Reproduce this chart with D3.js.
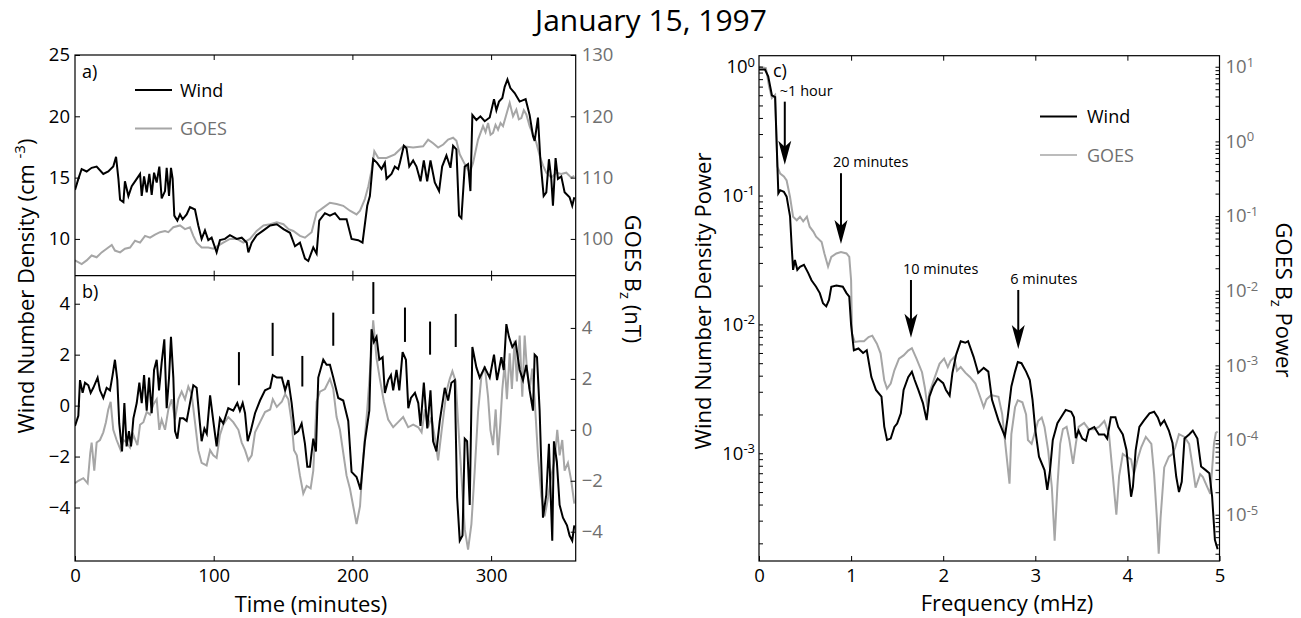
<!DOCTYPE html>
<html>
<head>
<meta charset="utf-8">
<script src="https://cdn.jsdelivr.net/npm/d3@7"></script>
<style>
body { margin: 0; background: #fff; }
text { font-family: "Open Sans", sans-serif; fill: #000; }
</style>
</head>
<body>
<script>
// ---------------- data ----------------
// panel a : Wind number density (cm^-3), [minute, value]
var windDensity = [[0,14.0],[2.4,14.9],[4.8,15.7],[8.4,15.5],[12,15.8],[15.6,15.9],[20.4,15.3],[24,15.5],[27.6,15.9],[29.6,16.7],[31.3,14.9],[32.5,13.2],[34.9,13.0],[36,14.7],[38.5,13.5],[40.9,14.3],[44.5,14.9],[46.9,15.3],[48.1,13.5],[49.8,15.1],[51.7,13.8],[53.6,15.3],[55.3,13.6],[57,15.4],[58.9,14.6],[60.8,15.9],[62.5,13.3],[64.9,13.9],[66.1,15.8],[67.8,13.5],[69.2,15.8],[70.4,14.9],[71.6,11.9],[73.8,11.5],[75.7,12.0],[77.6,11.6],[80.5,12.0],[82.9,12.6],[86.5,12.4],[88.9,11.1],[91.3,10.0],[93.7,10.7],[96.1,9.9],[98.5,10.1],[102.1,8.9],[104.5,9.9],[108.1,10.0],[111.7,10.3],[116.6,10.0],[120.2,10.1],[123.8,9.7],[125,8.9],[127.4,9.7],[131,10.3],[135.9,10.7],[140.7,11.1],[145.5,11.2],[150.3,10.8],[155,10.5],[158.6,9.4],[162.2,9.7],[165.8,8.4],[168.2,8.2],[171.8,9.3],[174.2,8.8],[176.1,11.5],[180.2,12.1],[183.8,11.9],[187.4,12.1],[191,11.6],[195.8,11.6],[199.4,10.0],[204.2,9.9],[207.3,9.7],[210.7,12.7],[212.6,13.5],[215,16.5],[217.8,16.2],[221,15.7],[223.4,16.2],[224.6,14.9],[228.2,15.3],[230.6,15.9],[233,15.7],[234.2,16.2],[237.1,17.6],[239,17.4],[241,15.9],[243.8,16.4],[246.2,15.9],[249.1,14.7],[251.5,16.4],[253.9,14.7],[256.3,16.4],[259.4,14.6],[262.5,13.9],[264.7,15.9],[267.8,16.8],[270.7,15.8],[272.6,17.6],[275,17.3],[276.9,11.9],[278.6,11.7],[281,15.9],[283.4,16.1],[285.1,13.9],[286.5,20.1],[289.4,19.7],[292.3,20.0],[295.4,19.6],[299,19.9],[302.1,21.4],[303.8,20.5],[305.7,21.2],[308.1,21.5],[309.8,22.4],[311.8,23.0],[313.9,22.3],[317,21.9],[320.6,21.2],[324.9,21.4],[327.8,20.1],[330.2,18.4],[331.4,18.0],[333.8,19.9],[335.5,16.5],[337.9,13.5],[339.8,13.8],[341.7,16.5],[343.4,14.9],[344.6,12.7],[346.5,16.6],[348.2,14.9],[350.6,15.1],[353,13.8],[356.6,13.4],[358.5,12.7],[360,13.4]];

// panel a : GOES Bz (nT), [minute, value]
var goesBz = [[0,96.5],[4.8,95.9],[8.4,96.5],[12,97.3],[15.6,97.0],[19.2,97.8],[22.8,98.4],[26.5,99.0],[28.8,98.1],[32.5,97.8],[36,98.4],[39.7,98.6],[43.3,99.7],[46.9,99.4],[50.5,100.5],[54.1,100.2],[57.7,100.7],[61.3,101.1],[64.9,101.3],[67.3,101.1],[70.9,101.9],[75.7,102.2],[79.3,101.6],[82.9,101.9],[85.3,100.5],[87.7,99.4],[91.3,98.6],[96.1,98.6],[99.7,98.4],[103.3,98.9],[106.9,99.4],[111.7,100.0],[116.6,100.0],[121.4,99.4],[126.2,100.0],[131,101.3],[135.9,102.2],[140.7,102.4],[145.5,102.7],[150.3,102.4],[154,101.6],[157.4,101.3],[162.2,100.5],[165.8,100.2],[170.6,101.1],[174.2,104.3],[179,105.1],[183.8,105.9],[188.6,105.7],[193.4,105.4],[198.2,104.6],[203,104.0],[205.5,104.6],[209,106.5],[211.5,108.6],[213.9,111.3],[215.8,114.3],[218.7,113.2],[224.6,113.2],[230.6,113.8],[236.6,115.1],[243.8,114.9],[251,115.1],[254.6,116.2],[258.2,115.6],[261.8,114.9],[265.5,115.4],[269,116.2],[272.6,116.5],[275,116.0],[277.4,113.8],[281,112.2],[284.6,110.8],[287,112.4],[290.6,116.2],[294.2,118.4],[296,117.4],[297.8,118.9],[299.6,117.0],[301.4,117.3],[303.2,118.6],[305,117.8],[306.8,118.9],[308.6,118.4],[311,120.3],[313.4,122.2],[315.8,120.0],[318.2,121.1],[320,119.5],[321.8,119.7],[323.6,121.0],[325.4,120.3],[327.8,118.4],[330.2,117.0],[332.6,115.7],[335,113.6],[337.4,112.0],[339.8,110.8],[343.4,110.0],[347,110.8],[350.6,110.6],[354.2,110.8],[357.8,110.0],[360,110.3]];

// panel b : filtered Wind density, [minute, value]
var windFilt = [[0,-0.8],[2.4,-0.4],[3.6,1.0],[5.5,0.5],[7.2,0.9],[9.6,0.8],[11.3,0.5],[13.2,0.7],[16.3,1.1],[18,0.6],[20.4,0.3],[22.8,0.7],[25.2,0.6],[27.1,1.2],[28.8,1.8],[30.5,1.0],[31.9,-0.7],[33.9,-1.8],[35.6,0.1],[37.2,-1.6],[38.9,-1.0],[40.4,-1.6],[42.1,-0.5],[44.5,0.1],[46.4,0.9],[48.1,0.1],[49.8,1.2],[51.7,-0.2],[53.4,1.1],[55.3,-0.3],[57,1.4],[58.9,1.8],[60.6,0.6],[62.5,1.7],[64.4,2.6],[66.1,-0.1],[67.8,1.1],[69.2,2.7],[70.9,1.1],[72.1,-1.0],[73.8,-1.3],[75.7,-0.5],[78.1,-0.5],[80.5,-0.6],[82.9,0.1],[85.3,0.8],[87.7,0.7],[89.7,-0.5],[91.3,-1.4],[93.3,-0.9],[95,-1.1],[97.4,0.4],[99.7,-0.6],[102.1,-1.6],[104.5,-0.5],[106.9,-0.7],[110.5,-0.1],[114.1,-0.2],[117,0.1],[118.9,-0.2],[120.9,0.1],[122.6,-0.3],[124.5,-1.4],[126.7,-1.0],[129.8,-0.3],[133.4,0.2],[137,0.6],[140.7,0.7],[142.6,1.2],[145.5,1.1],[149.1,1.1],[151.5,0.6],[153.8,1.0],[156.2,0.1],[158.6,-1.1],[161,-1.0],[163.4,-0.7],[165.8,-1.5],[167.5,-2.4],[169.4,-2.4],[171.8,-1.3],[173.7,-1.8],[175.4,1.1],[179,1.8],[181.4,1.6],[183.8,1.6],[186.2,1.1],[189.8,0.3],[193.4,0.2],[197,-0.6],[199.4,-2.6],[203,-2.8],[205.9,-3.3],[209,-1.4],[212.2,-0.2],[213.8,3.0],[215.5,2.5],[217.4,2.7],[219.4,1.8],[221.8,1.9],[223.4,0.5],[225.8,1.0],[227.8,1.2],[229.4,0.6],[231.8,1.4],[233.8,0.6],[236.2,2.1],[238.6,1.8],[240.3,-0.1],[242.2,0.3],[245.1,0.5],[247.5,0.1],[249.1,-0.8],[251.5,0.9],[254,-0.9],[256.3,0.6],[258.2,-1.4],[260.6,-1.8],[263,-0.6],[266.6,0.7],[269,0.2],[271.4,0.9],[273.8,1.0],[275.5,-3.6],[277.4,-5.3],[279.4,-5.1],[281,-1.3],[282.7,-1.4],[284.6,-3.9],[286.5,2.3],[289.4,1.5],[291.8,1.1],[295.4,1.5],[299,1.1],[302.1,2.0],[304.3,1.0],[307.4,1.9],[309.1,1.4],[311,3.2],[312.9,2.7],[315.3,2.3],[317.7,2.5],[320.6,1.4],[323,1.0],[325.4,1.6],[327.8,0.6],[330.2,-0.2],[331.4,2.0],[333.1,1.9],[335,-0.2],[337.4,-4.4],[339.8,-3.5],[341.7,-1.5],[344.1,-5.3],[345.3,-1.4],[347.4,-2.2],[349.4,-3.9],[351.8,-4.4],[354.7,-4.7],[356.6,-5.1],[358.5,-5.3],[360,-4.7]];

// panel b : filtered GOES Bz (nT), [minute, value]
var goesFilt = [[0,-2.1],[2.4,-2.0],[6,-1.9],[9.1,-2.1],[11,-0.9],[12,-0.5],[13.9,-1.6],[15.6,-0.5],[18,-0.4],[20.4,-0.1],[22.3,0.3],[24,0.8],[25.7,1.1],[27.6,0.0],[30,-0.4],[32.9,-0.8],[34.9,-0.4],[37.3,-0.5],[39.7,-0.7],[42.1,-0.2],[45,-0.6],[46.9,0.2],[49.3,0.3],[51.7,0.7],[54.1,0.6],[56.5,1.0],[58.9,1.2],[60.8,0.0],[62.5,0.4],[64.9,0.0],[67.3,0.8],[69.7,1.2],[72.1,0.4],[74.5,1.2],[76.9,1.5],[79.3,1.2],[81.7,1.7],[84.1,1.4],[86.5,0.3],[88.9,-0.8],[91.3,-1.3],[94.9,-1.4],[97.4,-0.8],[99.7,-1.0],[102.1,-1.1],[104.5,-0.2],[106.9,0.2],[110.5,0.5],[114.1,0.3],[117.8,0.0],[120.2,-0.5],[122.6,-0.8],[125,-1.2],[127.4,-1.0],[129.8,-0.1],[133.4,0.3],[137,0.7],[140.7,0.8],[142.6,1.2],[145.5,0.9],[149.1,1.1],[151.5,1.4],[153.8,1.2],[156.2,0.3],[157.9,-0.8],[159.9,-1.0],[162.2,-1.8],[164.6,-2.5],[167,-2.2],[169.9,-2.3],[171.8,-1.6],[174.2,1.1],[176.6,1.5],[180.2,1.6],[183.8,2.0],[186.2,1.6],[188.6,0.5],[191,0.0],[193.4,-0.9],[195.8,-1.8],[198.2,-2.3],[200.6,-3.0],[203,-3.7],[205.5,-3.0],[207.9,-1.0],[210.7,0.8],[213.1,2.6],[215,4.3],[217.4,2.8],[219.8,2.0],[222.7,1.1],[225.8,0.4],[229.4,0.1],[233,0.3],[236.6,0.5],[240.2,0.1],[243.8,0.2],[247.5,0.1],[249.9,-0.1],[252.3,0.8],[254.6,0.1],[257,0.5],[259.4,-0.3],[261.8,-1.2],[264.2,-0.1],[267.8,1.5],[270.2,2.0],[272.1,2.3],[274.5,1.9],[276.2,0.3],[278.6,-1.8],[281,-3.9],[283.4,-4.7],[285.8,-3.7],[288.2,-1.6],[290.6,0.7],[293,2.1],[295.4,2.5],[297.8,1.3],[299.5,0.0],[301.4,-0.6],[303.3,0.8],[305,-1.0],[306.7,0.3],[308.1,1.6],[309.8,2.6],[311.4,1.2],[313.4,3.0],[315,1.6],[316.9,3.5],[318.6,1.9],[320.6,3.7],[322.5,1.3],[324.2,3.7],[325.8,2.4],[327.8,1.6],[329.7,2.4],[331.4,1.2],[333.8,-1.0],[336.2,-2.6],[338.6,-3.4],[341,-2.7],[343.4,-1.8],[345.8,-1.2],[347.7,0.0],[349.4,-1.0],[351.3,-0.4],[353,-1.6],[355.4,-1.3],[357.8,-2.0],[360,-2.9]];

// panel b : vertical marks, minute / top / bottom (left axis units)
var markTime = [118.2, 142.5, 163.9, 186.2, 215.1, 237.9, 256, 274.5];
var markTop = [2.1, 3.25, 1.95, 3.65, 4.85, 3.85, 3.3, 3.6];
var markBottom = [0.8, 1.95, 0.75, 2.35, 3.6, 2.5, 2.0, 2.3];

// panel c : power spectra, [mHz, power]
var windPower = [[0,0.95],[0.065,0.95],[0.1,0.84],[0.14,0.6],[0.175,0.58],[0.2,0.168],[0.21,0.104],[0.23,0.11],[0.27,0.107],[0.3,0.098],[0.337,0.069],[0.355,0.04],[0.37,0.0265],[0.39,0.0316],[0.416,0.0265],[0.445,0.028],[0.488,0.029],[0.535,0.025],[0.57,0.022],[0.62,0.0196],[0.66,0.0175],[0.695,0.0146],[0.73,0.0138],[0.76,0.0155],[0.785,0.0196],[0.84,0.020],[0.91,0.0196],[0.95,0.0175],[0.98,0.0164],[1.0,0.0099],[1.03,0.0063],[1.08,0.0065],[1.13,0.006],[1.17,0.0063],[1.22,0.0039],[1.27,0.0031],[1.33,0.00275],[1.36,0.00161],[1.39,0.00127],[1.43,0.0013],[1.47,0.0016],[1.5,0.0017],[1.54,0.00204],[1.57,0.0031],[1.62,0.0039],[1.66,0.0043],[1.69,0.0037],[1.73,0.0031],[1.78,0.00245],[1.82,0.00181],[1.85,0.00275],[1.89,0.0033],[1.94,0.0038],[2.0,0.0035],[2.03,0.0031],[2.07,0.0028],[2.1,0.0042],[2.14,0.0058],[2.19,0.0074],[2.24,0.0072],[2.27,0.0074],[2.33,0.0056],[2.38,0.0042],[2.44,0.0046],[2.49,0.0043],[2.53,0.0026],[2.6,0.0018],[2.67,0.00135],[2.7,0.0019],[2.74,0.0033],[2.78,0.0043],[2.81,0.0051],[2.85,0.005],[2.9,0.0043],[2.94,0.0037],[2.97,0.0026],[3.0,0.00152],[3.04,0.00094],[3.1,0.00074],[3.13,0.00052],[3.16,0.00074],[3.19,0.00127],[3.24,0.00171],[3.28,0.0019],[3.33,0.00217],[3.39,0.0021],[3.42,0.0019],[3.44,0.00131],[3.47,0.0015],[3.51,0.0013],[3.55,0.00125],[3.58,0.00152],[3.64,0.0016],[3.69,0.0014],[3.75,0.0014],[3.78,0.0013],[3.82,0.0019],[3.87,0.0019],[3.9,0.0016],[3.95,0.0014],[3.99,0.00106],[4.04,0.00046],[4.06,0.00055],[4.09,0.00106],[4.13,0.0016],[4.18,0.0018],[4.24,0.00204],[4.29,0.0021],[4.33,0.0019],[4.36,0.00166],[4.4,0.0018],[4.45,0.0015],[4.49,0.0012],[4.53,0.00066],[4.56,0.0005],[4.59,0.0006],[4.62,0.0013],[4.67,0.0014],[4.71,0.0015],[4.76,0.0013],[4.8,0.00079],[4.85,0.00074],[4.89,0.0007],[4.92,0.00046],[4.95,0.000213],[4.98,0.00018]];

var goesPower = [[0,10],[0.075,9.6],[0.11,5.4],[0.14,3.8],[0.175,4.2],[0.2,0.46],[0.23,0.37],[0.27,0.34],[0.3,0.30],[0.337,0.18],[0.37,0.098],[0.41,0.088],[0.445,0.098],[0.48,0.085],[0.52,0.098],[0.55,0.072],[0.59,0.062],[0.62,0.053],[0.68,0.045],[0.71,0.0316],[0.75,0.021],[0.785,0.0284],[0.84,0.0316],[0.89,0.033],[0.95,0.0316],[0.98,0.0284],[1.0,0.0138],[1.01,0.00266],[1.04,0.00206],[1.09,0.0021],[1.14,0.0021],[1.19,0.0024],[1.23,0.0025],[1.28,0.00195],[1.32,0.00145],[1.36,0.00063],[1.39,0.00049],[1.43,0.00057],[1.47,0.00086],[1.52,0.00123],[1.57,0.00136],[1.62,0.00158],[1.66,0.0017],[1.71,0.00123],[1.77,0.00081],[1.8,0.00051],[1.83,0.000275],[1.85,0.00043],[1.91,0.0007],[1.96,0.00105],[2.01,0.00123],[2.05,0.00095],[2.08,0.00115],[2.12,0.00129],[2.15,0.00085],[2.19,0.00095],[2.24,0.0008],[2.29,0.0007],[2.35,0.00057],[2.38,0.00045],[2.44,0.000275],[2.47,0.00035],[2.52,0.0004],[2.6,0.00038],[2.64,0.000224],[2.67,0.0001],[2.72,0.000026],[2.74,0.00012],[2.78,0.000275],[2.81,0.00034],[2.86,0.00032],[2.9,0.00022],[2.92,0.0001],[2.96,0.000089],[2.99,0.00012],[3.03,0.00018],[3.07,0.0002],[3.1,0.00015],[3.14,0.000072],[3.18,0.000023],[3.21,0.0000045],[3.24,0.000024],[3.27,0.000089],[3.3,0.00014],[3.34,0.00015],[3.37,0.0001],[3.41,0.000048],[3.44,0.000089],[3.47,0.00015],[3.53,0.00017],[3.58,0.00014],[3.64,0.00014],[3.69,0.00015],[3.75,0.00018],[3.8,0.00012],[3.84,0.000035],[3.88,0.00001],[3.91,0.000033],[3.95,0.000065],[3.99,0.00006],[4.04,0.000055],[4.07,0.000035],[4.11,0.000055],[4.15,0.00008],[4.2,0.00011],[4.26,0.000089],[4.29,0.000035],[4.32,0.000009],[4.34,0.000003],[4.36,0.000009],[4.4,0.000043],[4.45,0.00006],[4.49,0.000065],[4.52,0.00008],[4.56,0.00012],[4.62,0.00011],[4.67,0.000089],[4.71,0.000043],[4.74,0.000023],[4.79,0.000035],[4.82,0.000032],[4.87,0.000023],[4.9,0.000019],[4.94,0.000089],[4.96,0.000125],[4.98,0.00013]];

// panel c : period arrows (mHz, label, top / tip on the left axis)
var arrowFreq = [0.28, 0.89, 1.65, 2.815];
var arrowLabel = ["~1 hour", "20 minutes", "10 minutes", "6 minutes"];
var arrowTop = [0.535, 0.149, 0.0221, 0.0185];
var arrowTip = [0.173, 0.042, 0.00786, 0.00645];

var timeTicks = [0, 100, 200, 300];
var densTicks = [10, 15, 20, 25];
var bzTicks = [100, 110, 120, 130];
var filtTicks = [-4, -2, 0, 2, 4];
var freqTicks = [0, 1, 2, 3, 4, 5];

// ---------------- layout ----------------
var W = 1301, H = 618;
var grayLine = "#a6a6a6", grayText = "#707070";

var svg = d3.select("body").append("svg")
            .attr("width", W)
            .attr("height", H);

var lp = {left: 75, right: 575.7, top: 55, mid: 275.7, bottom: 561};   // left panels
var rp = {left: 759, right: 1219.5, top: 55.7, bottom: 561};          // right panel

var x = d3.scaleLinear().domain([0, 361]).range([lp.left, lp.right]);
var yA = d3.scaleLinear().domain([7, 25]).range([lp.mid, lp.top]);
var yA2 = d3.scaleLinear().domain([94, 130]).range([lp.mid, lp.top]);
var yB = d3.scaleLinear().domain([-6.1, 5.1]).range([lp.bottom, lp.mid]);
var yB2 = d3.scaleLinear().domain([-5.15, 6.05]).range([lp.bottom, lp.mid]);

var xC = d3.scaleLinear().domain([0, 5]).range([rp.left, rp.right]);
var yC = d3.scaleLog().domain([Math.pow(10, -3.836), Math.pow(10, 0.085)]).range([rp.bottom, rp.top]);
var yC2 = d3.scaleLog().domain([Math.pow(10, -5.62), Math.pow(10, 1.148)]).range([rp.bottom, rp.top]);

// title
svg.append("text")
   .attr("x", 651).attr("y", 31)
   .attr("text-anchor", "middle")
   .style("font-size", "30px")
   .text("January 15, 1997");

// clip paths
var defs = svg.append("defs");
defs.append("clipPath").attr("id", "clipA").append("rect")
    .attr("x", lp.left).attr("y", lp.top).attr("width", lp.right - lp.left).attr("height", lp.mid - lp.top);
defs.append("clipPath").attr("id", "clipB").append("rect")
    .attr("x", lp.left).attr("y", lp.mid).attr("width", lp.right - lp.left).attr("height", lp.bottom - lp.mid);
defs.append("clipPath").attr("id", "clipC").append("rect")
    .attr("x", rp.left).attr("y", rp.top).attr("width", rp.right - rp.left).attr("height", rp.bottom - rp.top);

function noDomain(g) { g.select(".domain").remove(); }
function tickFont(g, col) {
  g.selectAll(".tick text").style("font-size", "18.5px").style("fill", col).attr("font-family", null);
  g.selectAll(".tick line").attr("stroke", "#000");
}

//////////////////////////////// panel a ////////////////////////////////
var lineA = d3.line().x(function(d) { return x(d[0]); }).y(function(d) { return yA(d[1]); });
var lineA2 = d3.line().x(function(d) { return x(d[0]); }).y(function(d) { return yA2(d[1]); });

var pa = svg.append("g").attr("clip-path", "url(#clipA)");
pa.append("path").datum(goesBz).attr("d", lineA2)
  .attr("fill", "none").attr("stroke", grayLine).attr("stroke-width", 2);
pa.append("path").datum(windDensity).attr("d", lineA)
  .attr("fill", "none").attr("stroke", "#000").attr("stroke-width", 2);

svg.append("g").attr("transform", "translate(" + lp.left + ",0)")
   .call(d3.axisLeft(yA).tickValues(densTicks).tickSize(-5).tickPadding(5))
   .call(noDomain).call(tickFont, "#000");
svg.append("g").attr("transform", "translate(" + lp.right + ",0)")
   .call(d3.axisRight(yA2).tickValues(bzTicks).tickSize(-5).tickPadding(6))
   .call(noDomain).call(tickFont, grayText);
svg.append("g").attr("transform", "translate(0," + lp.top + ")")
   .call(d3.axisTop(x).tickValues(timeTicks.slice(1)).tickSize(-5).tickFormat(""))
   .call(noDomain);
svg.append("g").attr("transform", "translate(0," + lp.mid + ")")
   .call(d3.axisBottom(x).tickValues(timeTicks.slice(1)).tickSize(-5).tickFormat(""))
   .call(noDomain);

//////////////////////////////// panel b ////////////////////////////////
var lineB = d3.line().x(function(d) { return x(d[0]); }).y(function(d) { return yB(d[1]); });
var lineB2 = d3.line().x(function(d) { return x(d[0]); }).y(function(d) { return yB2(d[1]); });

var pb = svg.append("g").attr("clip-path", "url(#clipB)");
pb.append("path").datum(goesFilt).attr("d", lineB2)
  .attr("fill", "none").attr("stroke", grayLine).attr("stroke-width", 2);
pb.append("path").datum(windFilt).attr("d", lineB)
  .attr("fill", "none").attr("stroke", "#000").attr("stroke-width", 2);

svg.selectAll("line.mark")
   .data(markTime)
   .enter()
   .append("line")
   .attr("class", "mark")
   .attr("x1", function(d) { return x(d); })
   .attr("x2", function(d) { return x(d); })
   .attr("y1", function(d, i) { return yB(markTop[i]); })
   .attr("y2", function(d, i) { return yB(markBottom[i]); })
   .attr("stroke", "#000")
   .attr("stroke-width", 2);

svg.append("g").attr("transform", "translate(" + lp.left + ",0)")
   .call(d3.axisLeft(yB).tickValues(filtTicks).tickSize(-5).tickPadding(5))
   .call(noDomain).call(tickFont, "#000");
svg.append("g").attr("transform", "translate(" + lp.right + ",0)")
   .call(d3.axisRight(yB2).tickValues(filtTicks).tickSize(-5).tickPadding(6))
   .call(noDomain).call(tickFont, grayText);
svg.append("g").attr("transform", "translate(0," + lp.mid + ")")
   .call(d3.axisTop(x).tickValues(timeTicks.slice(1)).tickSize(-5).tickFormat(""))
   .call(noDomain);
svg.append("g").attr("transform", "translate(0," + lp.bottom + ")")
   .call(d3.axisBottom(x).tickValues(timeTicks).tickSize(-5).tickPadding(8))
   .call(noDomain).call(tickFont, "#000");

// boxes
svg.append("rect").attr("x", lp.left).attr("y", lp.top)
   .attr("width", lp.right - lp.left).attr("height", lp.bottom - lp.top)
   .attr("fill", "none").attr("stroke", "#000").attr("stroke-width", 1.2);
svg.append("line").attr("x1", lp.left).attr("x2", lp.right)
   .attr("y1", lp.mid).attr("y2", lp.mid)
   .attr("stroke", "#000").attr("stroke-width", 1.2);

// panel letters + legend
svg.append("text").attr("x", 82).attr("y", 78).style("font-size", "18px").text("a)");
svg.append("text").attr("x", 82).attr("y", 298).style("font-size", "18px").text("b)");

svg.append("line").attr("x1", 135).attr("x2", 172).attr("y1", 90).attr("y2", 90)
   .attr("stroke", "#000").attr("stroke-width", 2);
svg.append("text").attr("x", 180).attr("y", 96.5).style("font-size", "18px").text("Wind");
svg.append("line").attr("x1", 135).attr("x2", 172).attr("y1", 128.5).attr("y2", 128.5)
   .attr("stroke", grayLine).attr("stroke-width", 2);
svg.append("text").attr("x", 180).attr("y", 135).style("font-size", "18px")
   .style("fill", grayText).text("GOES");

// axis titles, left panels
var lab1 = svg.append("text")
   .attr("transform", "translate(34,286) rotate(-90)")
   .attr("text-anchor", "middle")
   .style("font-size", "22px");
lab1.append("tspan").text("Wind Number Density (cm ");
lab1.append("tspan").attr("dy", -9).style("font-size", "15px").text("-3");
lab1.append("tspan").attr("dy", 9).text(")");

var lab2 = svg.append("text")
   .attr("transform", "translate(625,279) rotate(90)")
   .attr("text-anchor", "middle")
   .style("font-size", "22px");
lab2.append("tspan").text("GOES B");
lab2.append("tspan").attr("dy", 5).style("font-size", "15px").text("z");
lab2.append("tspan").attr("dy", -5).text(" (nT)");

svg.append("text").attr("x", 311).attr("y", 612)
   .attr("text-anchor", "middle")
   .style("font-size", "22px")
   .text("Time (minutes)");

//////////////////////////////// panel c ////////////////////////////////
var lineC = d3.line().x(function(d) { return xC(d[0]); }).y(function(d) { return yC(d[1]); });
var lineC2 = d3.line().x(function(d) { return xC(d[0]); }).y(function(d) { return yC2(d[1]); });

var pc = svg.append("g").attr("clip-path", "url(#clipC)");
pc.append("path").datum(goesPower).attr("d", lineC2)
  .attr("fill", "none").attr("stroke", grayLine).attr("stroke-width", 2);
pc.append("path").datum(windPower).attr("d", lineC)
  .attr("fill", "none").attr("stroke", "#000").attr("stroke-width", 2);

function logTicks(scale) {
  var dom = scale.domain(), out = [];
  for (var k = -7; k <= 2; k++) {
    for (var m = 1; m <= 9; m++) {
      var v = m * Math.pow(10, k);
      if (v >= dom[0] && v <= dom[1]) out.push(v);
    }
  }
  return out;
}
function logLabels(g, col) {
  g.selectAll(".tick").each(function(d) {
    var e = Math.log10(d);
    var t = d3.select(this).select("text");
    t.text(null).style("fill", col).style("font-size", "18.5px").attr("font-family", null);
    if (Math.abs(e - Math.round(e)) > 1e-6) return;
    t.append("tspan").text("10");
    t.append("tspan").attr("dy", "-0.5em").style("font-size", "13px").text(String(Math.round(e)));
  });
  g.selectAll(".tick line").attr("stroke", "#000");
}

svg.append("g").attr("transform", "translate(" + rp.left + ",0)")
   .call(d3.axisLeft(yC).tickValues(logTicks(yC)).tickSize(-4).tickPadding(4))
   .call(noDomain).call(logLabels, "#000");
svg.append("g").attr("transform", "translate(" + rp.right + ",0)")
   .call(d3.axisRight(yC2).tickValues(logTicks(yC2)).tickSize(-4).tickPadding(6))
   .call(noDomain).call(logLabels, grayText);
svg.append("g").attr("transform", "translate(0," + rp.top + ")")
   .call(d3.axisTop(xC).tickValues(freqTicks.slice(1, 5)).tickSize(-5).tickFormat(""))
   .call(noDomain);
svg.append("g").attr("transform", "translate(0," + rp.bottom + ")")
   .call(d3.axisBottom(xC).tickValues(freqTicks).tickSize(-5).tickPadding(8).tickFormat(d3.format("d")))
   .call(noDomain).call(tickFont, "#000");

svg.append("rect").attr("x", rp.left).attr("y", rp.top)
   .attr("width", rp.right - rp.left).attr("height", rp.bottom - rp.top)
   .attr("fill", "none").attr("stroke", "#000").attr("stroke-width", 1.2);

svg.append("text").attr("x", 773).attr("y", 77).style("font-size", "18px").text("c)");

// arrows
svg.selectAll("line.arrow")
   .data(arrowFreq)
   .enter()
   .append("line")
   .attr("class", "arrow")
   .attr("x1", function(d) { return xC(d); })
   .attr("x2", function(d) { return xC(d); })
   .attr("y1", function(d, i) { return yC(arrowTop[i]); })
   .attr("y2", function(d, i) { return yC(arrowTip[i]) - 15; })
   .attr("stroke", "#000")
   .attr("stroke-width", 2);

svg.selectAll("path.head")
   .data(arrowFreq)
   .enter()
   .append("path")
   .attr("class", "head")
   .attr("d", function(d, i) {
     var ax = xC(d), ay = yC(arrowTip[i]);
     return "M" + ax + "," + ay + " L" + (ax - 6.5) + "," + (ay - 24) +
            " L" + ax + "," + (ay - 18) + " L" + (ax + 6.5) + "," + (ay - 24) + " Z";
   })
   .attr("fill", "#000");

svg.selectAll("text.arrowLab")
   .data(arrowFreq)
   .enter()
   .append("text")
   .attr("class", "arrowLab")
   .attr("x", function(d, i) { return xC(d) - (i == 0 ? 5 : 8); })
   .attr("y", function(d, i) { return yC(arrowTop[i]) - 6; })
   .style("font-size", "14.5px")
   .text(function(d, i) { return arrowLabel[i]; });

// legend c
svg.append("line").attr("x1", 1040).attr("x2", 1077).attr("y1", 116.5).attr("y2", 116.5)
   .attr("stroke", "#000").attr("stroke-width", 2);
svg.append("text").attr("x", 1087).attr("y", 123).style("font-size", "18px").text("Wind");
svg.append("line").attr("x1", 1040).attr("x2", 1077).attr("y1", 155).attr("y2", 155)
   .attr("stroke", grayLine).attr("stroke-width", 1.5);
svg.append("text").attr("x", 1087).attr("y", 161.5).style("font-size", "18px")
   .style("fill", grayText).text("GOES");

// axis titles, right panel
svg.append("text")
   .attr("transform", "translate(711,301) rotate(-90)")
   .attr("text-anchor", "middle")
   .style("font-size", "22px")
   .text("Wind Number Density Power");

var lab3 = svg.append("text")
   .attr("transform", "translate(1276,300) rotate(90)")
   .attr("text-anchor", "middle")
   .style("font-size", "22px");
lab3.append("tspan").text("GOES B");
lab3.append("tspan").attr("dy", 5).style("font-size", "15px").text("z");
lab3.append("tspan").attr("dy", -5).text(" Power");

svg.append("text").attr("x", 1007).attr("y", 611)
   .attr("text-anchor", "middle")
   .style("font-size", "22px")
   .text("Frequency (mHz)");
</script>
</body>
</html>
